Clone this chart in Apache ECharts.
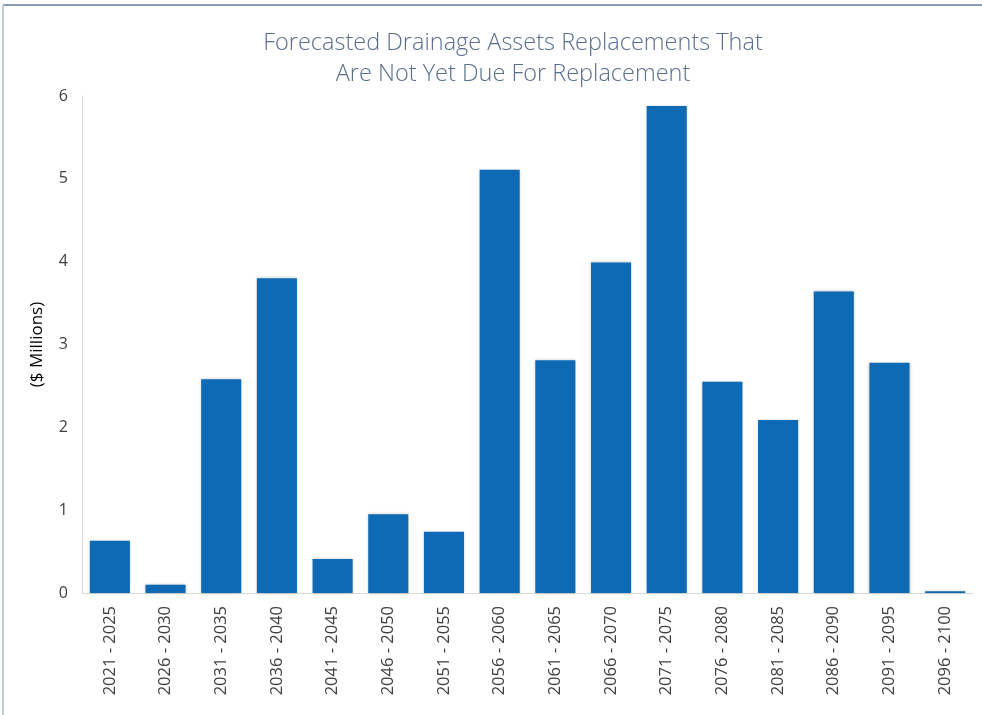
<!DOCTYPE html>
<html>
<head>
<meta charset="utf-8">
<script src="https://cdn.jsdelivr.net/npm/echarts@6/dist/echarts.min.js"></script>
<style>
  html, body { margin: 0; padding: 0; background: #fff; }
  #chart { width: 982px; height: 715px; }
</style>
</head>
<body>
<div id="chart"></div>
<script>
const periods = ["2021 - 2025", "2026 - 2030", "2031 - 2035", "2036 - 2040", "2041 - 2045", "2046 - 2050",
  "2051 - 2055", "2056 - 2060", "2061 - 2065", "2066 - 2070", "2071 - 2075", "2076 - 2080",
  "2081 - 2085", "2086 - 2090", "2091 - 2095", "2096 - 2100"];
const replacements = [0.63, 0.10, 2.58, 3.80, 0.41, 0.95, 0.74, 5.11, 2.81, 3.99, 5.88, 2.55, 2.09, 3.64, 2.78, 0.02];

const chart = echarts.init(document.getElementById("chart"));
chart.setOption({
  backgroundColor: "#fff",
  animation: false,
  title: {
    text: "Forecasted Drainage Assets Replacements That\nAre Not Yet Due For Replacement",
    left: 508,
    top: 23,
    textAlign: "center",
    textStyle: {
      color: "#5a6e8e",
      fontSize: 23.5,
      fontWeight: 300,
      fontFamily: "Open Sans",
      lineHeight: 31
    }
  },
  graphic: [
    { type: "line", shape: { x1: 3, y1: 5, x2: 982, y2: 5 }, style: { stroke: "#8a9cbc", lineWidth: 2 } },
    { type: "line", shape: { x1: 3, y1: 5, x2: 3, y2: 715 }, style: { stroke: "#c2cbe0", lineWidth: 2 } }
  ],
  grid: { left: 82, right: 9, top: 96, bottom: 122 },
  xAxis: {
    type: "category",
    data: periods,
    axisLine: { lineStyle: { color: "#d9d9d9" } },
    axisTick: { show: false },
    axisLabel: {
      rotate: 90,
      interval: 0,
      color: "#404040",
      fontSize: 16.5,
      margin: 13,
      fontFamily: "Open Sans"
    }
  },
  yAxis: {
    type: "value",
    min: 0,
    max: 6,
    interval: 1,
    name: "($ Millions)",
    nameLocation: "middle",
    nameGap: 36,
    nameTextStyle: { color: "#000", fontSize: 17, fontFamily: "Open Sans" },
    axisLine: { show: true, lineStyle: { color: "#d9d9d9" } },
    axisTick: { show: false },
    splitLine: { show: false },
    axisLabel: { color: "#404040", fontSize: 16, margin: 14, fontFamily: "Open Sans" }
  },
  series: [{
    type: "bar",
    data: replacements,
    barCategoryGap: "28%",
    itemStyle: {
      color: "#0e6ab4",
      shadowColor: "rgba(0,0,0,0.25)",
      shadowBlur: 3
    }
  }]
});
</script>
</body>
</html>
